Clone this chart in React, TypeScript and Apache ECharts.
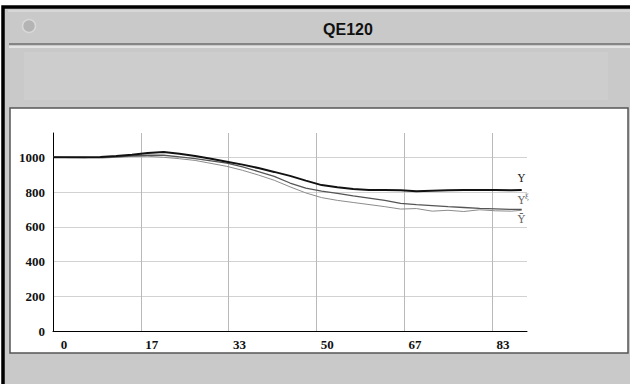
import React, { useEffect, useRef } from "react";
import * as echarts from "echarts";

// ---- data ----
const xs = [0, 3, 6, 9, 12, 15, 18, 21, 24, 27, 30, 33, 36, 39, 42, 45, 48, 51, 54, 57, 60, 63, 66, 69, 72, 75, 78, 81, 84, 87, 89];
const seriesY = [1000, 1000, 1000, 1002, 1008, 1015, 1025, 1030, 1020, 1008, 992, 975, 958, 938, 916, 893, 866, 840, 828, 818, 812, 812, 810, 804, 808, 811, 812, 812, 812, 810, 812];
const seriesYs = [1000, 1000, 998, 1000, 1003, 1008, 1012, 1012, 1002, 992, 980, 966, 945, 918, 890, 852, 822, 805, 792, 778, 765, 752, 735, 728, 722, 716, 711, 706, 703, 700, 700];
const seriesYbar = [1002, 998, 1000, 995, 1000, 1005, 1006, 1000, 992, 982, 965, 948, 925, 898, 868, 830, 795, 768, 752, 740, 728, 716, 702, 705, 690, 695, 688, 698, 692, 690, 695];
const seriesNames = ["Y", "Yξ", "Ȳ"];
const yTicks = [0, 200, 400, 600, 800, 1000];
const xTickStep = 100 / 6;

export default function App() {
  const ref = useRef<HTMLDivElement>(null);
  useEffect(() => {
    if (!ref.current) return;
    const chart = echarts.init(ref.current, undefined, { renderer: "svg" });
    const toPairs = (vals: number[]) => xs.map((x, i) => [x, vals[i]]);
    const labelFont = { fontFamily: "Liberation Serif", fontWeight: "bold" as const, fontSize: 13, color: "#111" };
    const option: any = {
      animation: false,
      backgroundColor: "#ffffff",
      title: {
        text: "QE120",
        left: 343,
        top: 16,
        textAlign: "center",
        textStyle: { fontFamily: "Liberation Sans", fontWeight: "bold", fontSize: 16, color: "#111" },
      },
      graphic: {
        elements: [
          { type: "rect", z: -5, shape: { x: 3, y: 7, width: 660, height: 400 }, style: { fill: "#c9c9c9", stroke: "#000", lineWidth: 3.5 } },
          { type: "line", z: -4, shape: { x1: 8, y1: 11, x2: 630, y2: 11 }, style: { stroke: "#e6e6e6", lineWidth: 1 } },
          { type: "line", z: -4, shape: { x1: 9, y1: 44, x2: 630, y2: 44 }, style: { stroke: "#6e6e6e", lineWidth: 1.5 } },
          { type: "line", z: -4, shape: { x1: 9, y1: 47, x2: 630, y2: 47 }, style: { stroke: "#ededed", lineWidth: 1.5 } },
          { type: "rect", z: -4, shape: { x: 24, y: 52, width: 584, height: 48 }, style: { fill: "#cdcdcd" } },
          { type: "circle", z: -4, shape: { cx: 29, cy: 26, r: 6.5 }, style: { fill: "#b4b4b4", stroke: "#d8d8d8", lineWidth: 1.5 } },
          { type: "rect", z: -3, shape: { x: 10, y: 108, width: 618, height: 245 }, style: { fill: "#ffffff", stroke: "#555", lineWidth: 1.5 } },
        ],
      },
      grid: { left: 53, top: 133, right: 103, bottom: 53, containLabel: false },
      xAxis: {
        type: "value",
        min: 0,
        max: 90,
        interval: xTickStep,
        axisLine: { show: true, lineStyle: { color: "#000", width: 1 } },
        axisTick: { show: false },
        axisLabel: {
          ...labelFont,
          margin: 7,
          padding: [0, 0, 0, 22],
          showMaxLabel: false,
          formatter: (v: number) => (v > 85 ? "" : String(Math.round(v))),
        },
        splitLine: { show: true, showMaxLine: false, showMinLine: false, lineStyle: { color: "#b9b9b9", width: 1 } },
      },
      yAxis: {
        type: "value",
        min: 0,
        max: 1140,
        interval: 200,
        axisLine: { show: true, lineStyle: { color: "#000", width: 1 } },
        axisTick: { show: false },
        axisLabel: {
          ...labelFont,
          margin: 8,
          padding: [0, 0, 8, 0],
          showMaxLabel: false,
          formatter: (v: number) => (yTicks.indexOf(v) >= 0 ? String(v) : ""),
        },
        splitLine: { show: true, showMaxLine: false, lineStyle: { color: "#d2d2d2", width: 1 } },
      },
      series: [
        {
          name: seriesNames[2],
          type: "line",
          data: toPairs(seriesYbar),
          showSymbol: false,
          lineStyle: { color: "#8c8c8c", width: 1 },
          z: 3,
          endLabel: {
            show: true,
            formatter: seriesNames[2],
            offset: [-12, 9],
            fontFamily: "DejaVu Serif",
            fontSize: 11,
            color: "#666",
          },
        },
        {
          name: seriesNames[1],
          type: "line",
          data: toPairs(seriesYs),
          showSymbol: false,
          lineStyle: { color: "#555", width: 1.3 },
          z: 4,
          endLabel: {
            show: true,
            formatter: "{a|Y}{s|ξ}",
            offset: [-12, -9],
            rich: {
              a: { fontFamily: "DejaVu Serif", fontSize: 11, color: "#666" },
              s: { fontFamily: "DejaVu Serif", fontSize: 7, color: "#666", padding: [0, 0, 6, 0] },
            },
          },
        },
        {
          name: seriesNames[0],
          type: "line",
          data: toPairs(seriesY),
          showSymbol: false,
          lineStyle: { color: "#111", width: 2 },
          z: 5,
          endLabel: {
            show: true,
            formatter: seriesNames[0],
            offset: [-12, -11],
            fontFamily: "DejaVu Serif",
            fontSize: 11,
            color: "#222",
          },
        },
      ],
    };
    chart.setOption(option);
    return () => chart.dispose();
  }, []);
  return <div ref={ref} style={{ position: "absolute", left: 0, top: 0, width: 630, height: 384 }} />;
}
